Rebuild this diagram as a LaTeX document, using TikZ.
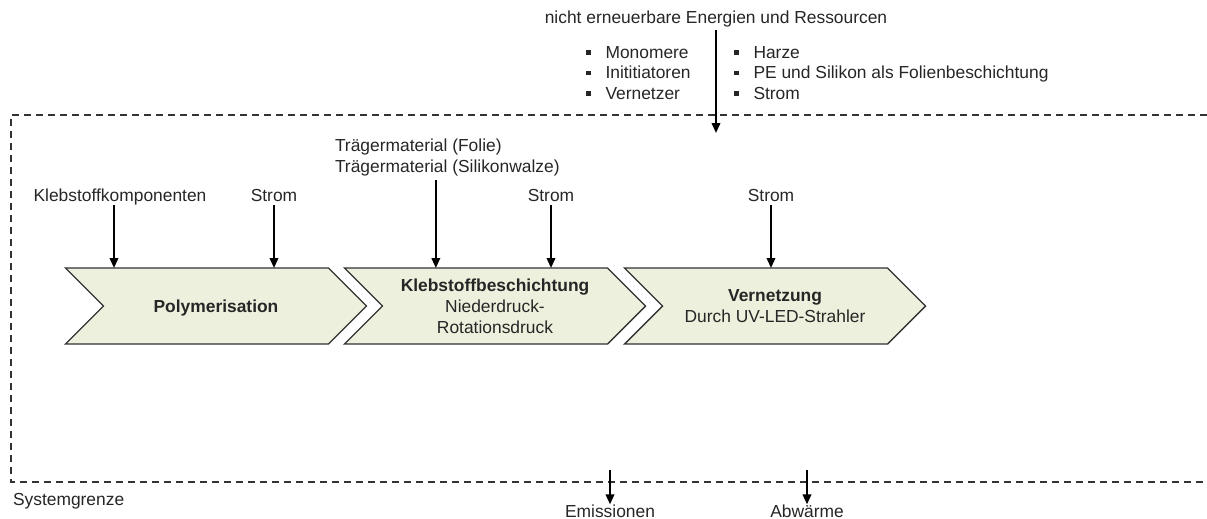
\documentclass[tikz,border=0pt]{standalone}
\usepackage{fontspec}
\setmainfont{Liberation Sans}
\usepackage{tikz}
\usetikzlibrary{shapes.symbols,arrows.meta}
\definecolor{stagefill}{RGB}{237,240,220}
\definecolor{ink}{RGB}{38,38,38}
\newcommand\sqitem{\raisebox{3.5pt}{\rule{4.5pt}{4.5pt}}\hspace{15pt}}

\begin{document}
\begin{tikzpicture}[x=1pt,y=-1pt,
  every node/.style={font=\fontsize{17.4}{20.5}\selectfont,text=ink,inner sep=0pt,outer sep=0pt},
  lbl/.style={anchor=base,text depth=0.21em},
  stage/.style={signal,signal from=west,signal to=east,signal pointer angle=90,
    draw=black!80,line width=1.4pt,fill=stagefill,minimum width=301pt,minimum height=76pt,
    align=center,font=\fontsize{17.4}{21}\selectfont},
  flow/.style={-{Triangle[length=10pt,width=8.5pt]},line width=2pt},
  sysline/.style={dash pattern=on 7pt off 5pt,line width=1.5pt,black!80}]
\useasboundingbox (0,0) rectangle (1207,519);

% Systemgrenze
\draw[sysline] (1207,115) -- (11,115) -- (11,482) -- (1207,482);
\node[anchor=base west] (sysgr) at (13,505) {Systemgrenze};

% Prozessschritte
\node[stage,text depth=0pt] (poly) at (216,306) {\textbf{Polymerisation}};
\node[stage] (kleb) at (495,306) {\textbf{Klebstoffbeschichtung}\\Niederdruck-\\Rotationsdruck};
\node[stage] (vern) at (775,306) {\textbf{Vernetzung}\\Durch UV-LED-Strahler};

% Eingaenge
\node[lbl] (komp) at (120,201) {Klebstoffkomponenten};
\node[lbl] (strom1) at (274,201) {Strom};
\node[anchor=south west,align=left] (traeger) at (335,176) {Trägermaterial (Folie)\\Trägermaterial (Silikonwalze)};
\node[lbl] (strom2) at (551,201) {Strom};
\node[lbl] (strom3) at (771,201) {Strom};
\draw[flow,shorten <=2pt] ([xshift=-6pt]komp.south) -- ([xshift=-6pt]komp.south |- poly.north);
\draw[flow,shorten <=2pt] (strom1.south) -- (strom1.south |- poly.north);
\draw[flow,shorten <=4pt] ([xshift=-11.5pt]traeger.south) -- ([xshift=-11.5pt]traeger.south |- kleb.north);
\draw[flow,shorten <=2pt] (strom2.south) -- (strom2.south |- kleb.north);
\draw[flow,shorten <=2pt] (strom3.south) -- (strom3.south |- vern.north);

% Ressourcen
\node[lbl] (res) at (716,24) {nicht erneuerbare Energien und Ressourcen};
\node[anchor=north west,align=left] (stoffe) at (586,46.5) {\sqitem Monomere\\\sqitem Inititiatoren\\\sqitem Vernetzer};
\node[anchor=north west,align=left] (hilfs) at (734,46.5) {\sqitem Harze\\\sqitem PE und Silikon als Folienbeschichtung\\\sqitem Strom};
\coordinate (resin) at (716,133);
\draw[flow,shorten <=4pt] (res.south) -- (resin);

% Ausgaenge
\node[lbl] (emis) at (610,517) {Emissionen};
\node[lbl] (abw) at (807,517) {Abwärme};
\coordinate (emisout) at (610,470);
\coordinate (abwout) at (807,470);
\draw[flow] (emisout) -- (emis.north);
\draw[flow] (abwout) -- (abw.north);
\end{tikzpicture}
\end{document}
